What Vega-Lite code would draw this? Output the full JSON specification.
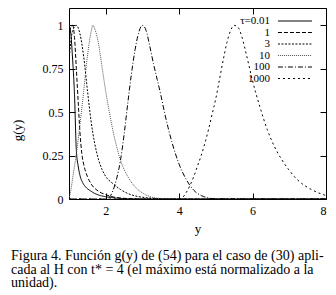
{
  "$schema": "https://vega.github.io/schema/vega-lite/v6.json",
  "width": 257,
  "height": 191,
  "autosize": {"type": "none"},
  "padding": {"left": 69, "top": 8, "right": 10, "bottom": 96},
  "background": "white",
  "config": {
    "view": {"stroke": "black", "strokeWidth": 1},
    "font": "Liberation Serif",
    "axis": {
      "domain": false,
      "grid": false,
      "labelFont": "Liberation Serif",
      "labelFontSize": 12,
      "labelColor": "black",
      "titleFont": "Liberation Serif",
      "titleFontSize": 13,
      "titleFontWeight": "normal",
      "titleColor": "black",
      "tickColor": "black",
      "tickSize": -6,
      "tickWidth": 1
    }
  },
  "title": {
    "text": [
      "Figura 4. Función g(y) de (54) para el caso de (30) apli-",
      "cada al H con t* = 4 (el máximo está normalizado a la",
      "unidad)."
    ],
    "orient": "bottom",
    "anchor": "start",
    "frame": "bounds",
    "font": "Liberation Serif",
    "fontSize": 14,
    "fontWeight": "normal",
    "lineHeight": 13.5,
    "color": "black",
    "offset": 14
  },
  "data": {
    "values": [
      {"tau": "τ=0.01", "x": 1.0, "g": 1.0},
      {"tau": "τ=0.01", "x": 1.05, "g": 0.95},
      {"tau": "τ=0.01", "x": 1.1, "g": 0.8},
      {"tau": "τ=0.01", "x": 1.15, "g": 0.6},
      {"tau": "τ=0.01", "x": 1.2, "g": 0.28},
      {"tau": "τ=0.01", "x": 1.25, "g": 0.19},
      {"tau": "τ=0.01", "x": 1.3, "g": 0.135},
      {"tau": "τ=0.01", "x": 1.37, "g": 0.095},
      {"tau": "τ=0.01", "x": 1.45, "g": 0.07},
      {"tau": "τ=0.01", "x": 1.6, "g": 0.045},
      {"tau": "τ=0.01", "x": 1.7, "g": 0.032},
      {"tau": "τ=0.01", "x": 1.85, "g": 0.02},
      {"tau": "τ=0.01", "x": 2.0, "g": 0.013},
      {"tau": "τ=0.01", "x": 2.3, "g": 0.005},
      {"tau": "τ=0.01", "x": 2.6, "g": 0.002},
      {"tau": "τ=0.01", "x": 3.0, "g": 0.0},
      {"tau": "τ=0.01", "x": 8.0, "g": 0.0},

      {"tau": "1", "x": 1.0, "g": 0.93},
      {"tau": "1", "x": 1.05, "g": 0.99},
      {"tau": "1", "x": 1.1, "g": 1.0},
      {"tau": "1", "x": 1.15, "g": 0.93},
      {"tau": "1", "x": 1.2, "g": 0.75},
      {"tau": "1", "x": 1.25, "g": 0.56},
      {"tau": "1", "x": 1.3, "g": 0.38},
      {"tau": "1", "x": 1.35, "g": 0.26},
      {"tau": "1", "x": 1.4, "g": 0.2},
      {"tau": "1", "x": 1.5, "g": 0.13},
      {"tau": "1", "x": 1.6, "g": 0.088},
      {"tau": "1", "x": 1.8, "g": 0.045},
      {"tau": "1", "x": 2.0, "g": 0.025},
      {"tau": "1", "x": 2.2, "g": 0.012},
      {"tau": "1", "x": 2.5, "g": 0.004},
      {"tau": "1", "x": 3.0, "g": 0.0},
      {"tau": "1", "x": 8.0, "g": 0.0},

      {"tau": "3", "x": 1.0, "g": 0.8},
      {"tau": "3", "x": 1.1, "g": 0.97},
      {"tau": "3", "x": 1.2, "g": 1.0},
      {"tau": "3", "x": 1.3, "g": 0.95},
      {"tau": "3", "x": 1.4, "g": 0.82},
      {"tau": "3", "x": 1.5, "g": 0.63},
      {"tau": "3", "x": 1.6, "g": 0.45},
      {"tau": "3", "x": 1.7, "g": 0.32},
      {"tau": "3", "x": 1.8, "g": 0.23},
      {"tau": "3", "x": 1.9, "g": 0.17},
      {"tau": "3", "x": 2.0, "g": 0.13},
      {"tau": "3", "x": 2.2, "g": 0.088},
      {"tau": "3", "x": 2.4, "g": 0.055},
      {"tau": "3", "x": 2.6, "g": 0.032},
      {"tau": "3", "x": 2.8, "g": 0.018},
      {"tau": "3", "x": 3.0, "g": 0.01},
      {"tau": "3", "x": 3.5, "g": 0.002},
      {"tau": "3", "x": 4.0, "g": 0.0},
      {"tau": "3", "x": 8.0, "g": 0.0},

      {"tau": "10", "x": 1.0, "g": 0.0},
      {"tau": "10", "x": 1.05, "g": 0.05},
      {"tau": "10", "x": 1.1, "g": 0.12},
      {"tau": "10", "x": 1.2, "g": 0.26},
      {"tau": "10", "x": 1.3, "g": 0.43},
      {"tau": "10", "x": 1.4, "g": 0.62},
      {"tau": "10", "x": 1.5, "g": 0.82},
      {"tau": "10", "x": 1.6, "g": 0.96},
      {"tau": "10", "x": 1.65, "g": 1.0},
      {"tau": "10", "x": 1.7, "g": 0.98},
      {"tau": "10", "x": 1.8, "g": 0.9},
      {"tau": "10", "x": 1.9, "g": 0.76},
      {"tau": "10", "x": 2.0, "g": 0.62},
      {"tau": "10", "x": 2.1, "g": 0.5},
      {"tau": "10", "x": 2.2, "g": 0.39},
      {"tau": "10", "x": 2.3, "g": 0.3},
      {"tau": "10", "x": 2.4, "g": 0.225},
      {"tau": "10", "x": 2.6, "g": 0.13},
      {"tau": "10", "x": 2.8, "g": 0.07},
      {"tau": "10", "x": 3.0, "g": 0.035},
      {"tau": "10", "x": 3.2, "g": 0.014},
      {"tau": "10", "x": 3.5, "g": 0.003},
      {"tau": "10", "x": 4.0, "g": 0.0},
      {"tau": "10", "x": 8.0, "g": 0.0},

      {"tau": "100", "x": 1.0, "g": 0.0},
      {"tau": "100", "x": 2.0, "g": 0.0},
      {"tau": "100", "x": 2.1, "g": 0.01},
      {"tau": "100", "x": 2.2, "g": 0.05},
      {"tau": "100", "x": 2.3, "g": 0.12},
      {"tau": "100", "x": 2.4, "g": 0.22},
      {"tau": "100", "x": 2.5, "g": 0.37},
      {"tau": "100", "x": 2.6, "g": 0.55},
      {"tau": "100", "x": 2.7, "g": 0.72},
      {"tau": "100", "x": 2.8, "g": 0.86},
      {"tau": "100", "x": 2.9, "g": 0.96},
      {"tau": "100", "x": 3.0, "g": 1.0},
      {"tau": "100", "x": 3.1, "g": 0.97},
      {"tau": "100", "x": 3.2, "g": 0.88},
      {"tau": "100", "x": 3.3, "g": 0.78},
      {"tau": "100", "x": 3.4, "g": 0.69},
      {"tau": "100", "x": 3.5, "g": 0.6},
      {"tau": "100", "x": 3.6, "g": 0.5},
      {"tau": "100", "x": 3.7, "g": 0.41},
      {"tau": "100", "x": 3.8, "g": 0.33},
      {"tau": "100", "x": 3.9, "g": 0.26},
      {"tau": "100", "x": 4.0, "g": 0.2},
      {"tau": "100", "x": 4.2, "g": 0.11},
      {"tau": "100", "x": 4.4, "g": 0.05},
      {"tau": "100", "x": 4.6, "g": 0.02},
      {"tau": "100", "x": 4.8, "g": 0.006},
      {"tau": "100", "x": 5.0, "g": 0.001},
      {"tau": "100", "x": 8.0, "g": 0.0},

      {"tau": "1000", "x": 1.0, "g": 0.0},
      {"tau": "1000", "x": 4.0, "g": 0.0},
      {"tau": "1000", "x": 4.1, "g": 0.01},
      {"tau": "1000", "x": 4.2, "g": 0.04},
      {"tau": "1000", "x": 4.3, "g": 0.08},
      {"tau": "1000", "x": 4.4, "g": 0.13},
      {"tau": "1000", "x": 4.5, "g": 0.19},
      {"tau": "1000", "x": 4.6, "g": 0.25},
      {"tau": "1000", "x": 4.7, "g": 0.32},
      {"tau": "1000", "x": 4.8, "g": 0.4},
      {"tau": "1000", "x": 4.9, "g": 0.49},
      {"tau": "1000", "x": 5.0, "g": 0.58},
      {"tau": "1000", "x": 5.1, "g": 0.69},
      {"tau": "1000", "x": 5.2, "g": 0.8},
      {"tau": "1000", "x": 5.3, "g": 0.9},
      {"tau": "1000", "x": 5.4, "g": 0.97},
      {"tau": "1000", "x": 5.5, "g": 1.0},
      {"tau": "1000", "x": 5.6, "g": 0.99},
      {"tau": "1000", "x": 5.7, "g": 0.94},
      {"tau": "1000", "x": 5.8, "g": 0.86},
      {"tau": "1000", "x": 5.9, "g": 0.77},
      {"tau": "1000", "x": 6.0, "g": 0.68},
      {"tau": "1000", "x": 6.2, "g": 0.53},
      {"tau": "1000", "x": 6.4, "g": 0.4},
      {"tau": "1000", "x": 6.6, "g": 0.3},
      {"tau": "1000", "x": 6.8, "g": 0.225},
      {"tau": "1000", "x": 7.0, "g": 0.165},
      {"tau": "1000", "x": 7.2, "g": 0.115},
      {"tau": "1000", "x": 7.4, "g": 0.08},
      {"tau": "1000", "x": 7.6, "g": 0.055},
      {"tau": "1000", "x": 7.8, "g": 0.035},
      {"tau": "1000", "x": 8.0, "g": 0.02}
    ]
  },
  "layer": [
    {
      "mark": {"type": "line", "strokeWidth": 1, "interpolate": "monotone", "clip": true},
      "encoding": {
        "x": {
          "field": "x", "type": "quantitative",
          "scale": {"domain": [1, 8], "nice": false, "zero": false},
          "axis": {"orient": "bottom", "values": [2, 4, 6, 8], "title": "y", "labelPadding": 12, "titleY": 29, "titleBaseline": "middle"}
        },
        "y": {
          "field": "g", "type": "quantitative",
          "scale": {"domain": [0, 1.1], "nice": false},
          "axis": {"orient": "left", "values": [0, 0.25, 0.5, 0.75, 1], "title": "g(y)", "labelPadding": 12, "titleX": -52, "titleY": 122, "titleAlign": "center", "titleBaseline": "middle", "labelExpr": "datum.value == 0 ? '0' : datum.value == 1 ? '1' : format(datum.value, '.2~f')"}
        },
        "color": {
          "field": "tau", "type": "nominal",
          "scale": {"domain": ["τ=0.01", "1", "3", "10", "100", "1000"], "range": ["black", "black", "black", "#555555", "black", "black"]},
          "legend": {
            "title": null,
            "orient": "none",
            "legendX": 220,
            "legendY": 7,
            "symbolType": "M-3.1,0H3.1",
            "symbolSize": 121,
            "symbolStrokeWidth": 1,
            "labelAlign": "right",
            "labelOffset": -31,
            "labelFont": "Liberation Serif",
            "labelFontSize": 11,
            "labelColor": "black",
            "rowPadding": 0.5,
            "padding": 0
          }
        },
        "strokeDash": {
          "field": "tau", "type": "nominal",
          "scale": {"domain": ["τ=0.01", "1", "3", "10", "100", "1000"], "range": [[1, 0], [4, 2], [2, 1.5], [1, 1], [5, 2, 1, 2], [2, 3]]},
          "legend": {
            "title": null,
            "orient": "none",
            "legendX": 220,
            "legendY": 7,
            "symbolType": "M-3.1,0H3.1",
            "symbolSize": 121,
            "symbolStrokeWidth": 1,
            "labelAlign": "right",
            "labelOffset": -31,
            "labelFont": "Liberation Serif",
            "labelFontSize": 11,
            "labelColor": "black",
            "rowPadding": 0.5,
            "padding": 0
          }
        }
      }
    },
    {
      "mark": {"type": "point", "opacity": 0},
      "encoding": {
        "x": {"field": "x", "type": "quantitative", "axis": {"orient": "top", "values": [2, 4, 6, 8], "labels": false, "title": null}},
        "y": {"field": "g", "type": "quantitative", "axis": {"orient": "right", "values": [0, 0.25, 0.5, 0.75, 1], "labels": false, "title": null}}
      }
    }
  ],
  "resolve": {"axis": {"x": "independent", "y": "independent"}}
}
